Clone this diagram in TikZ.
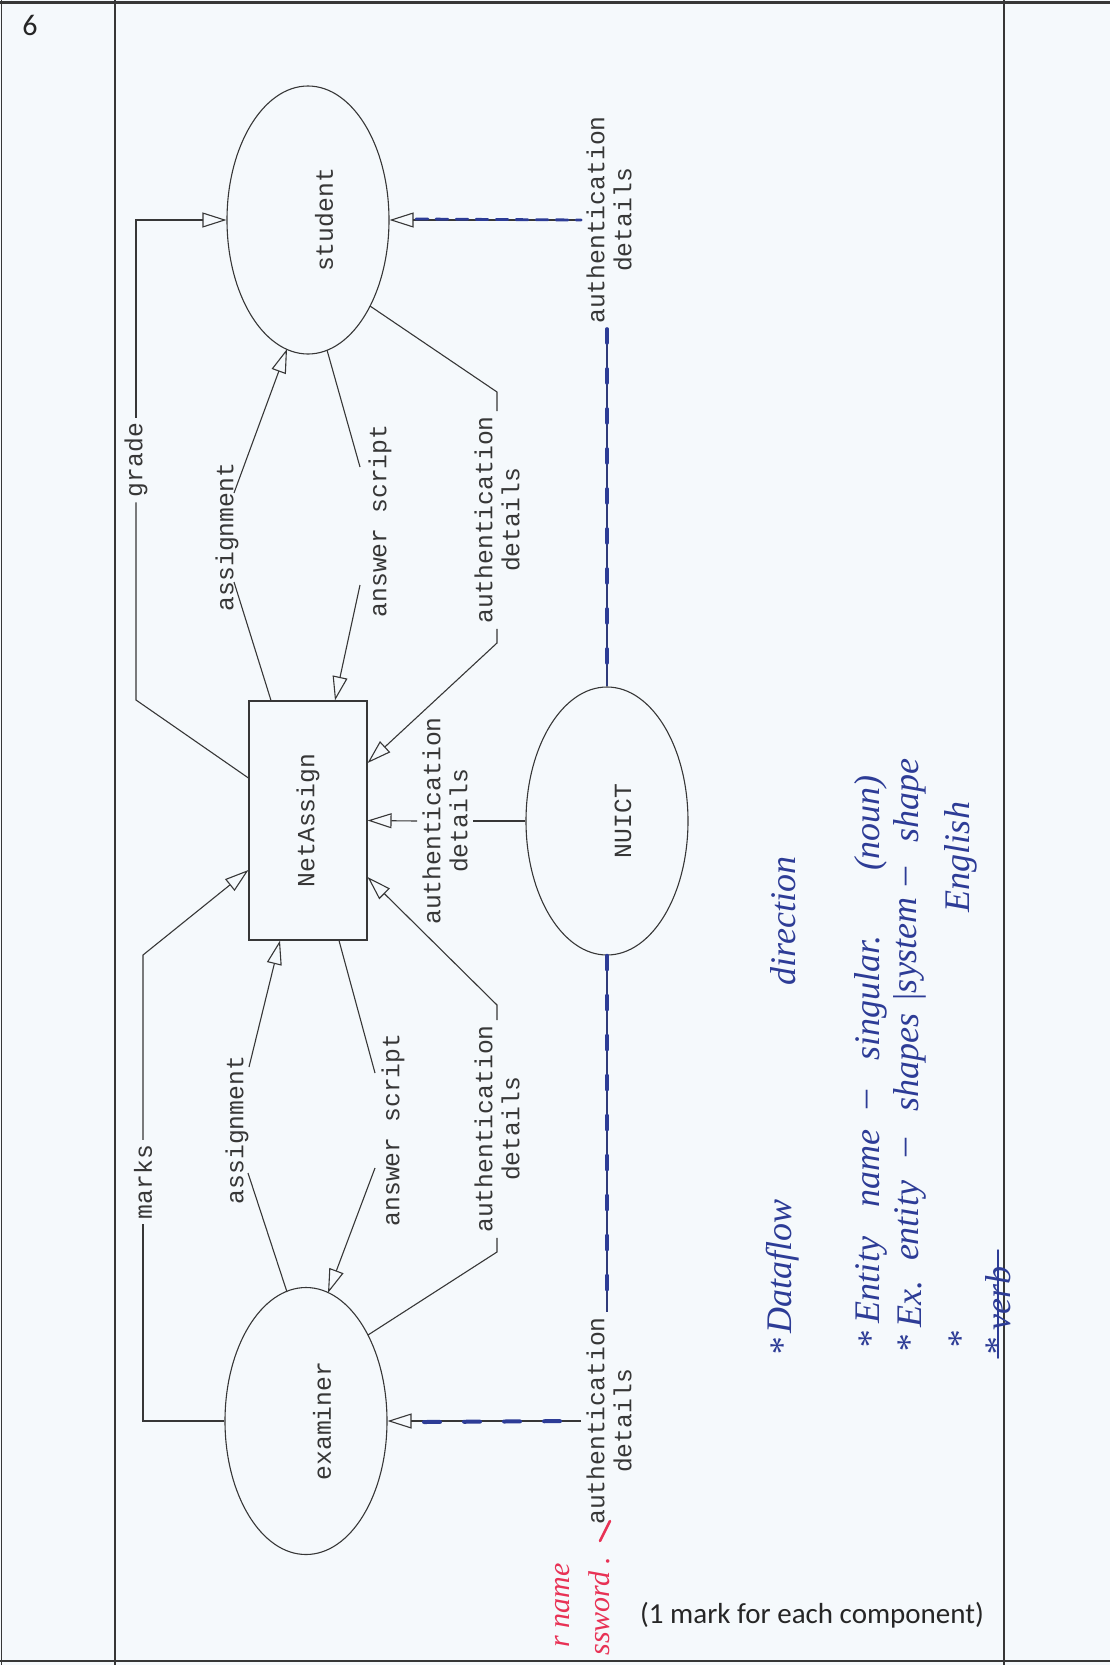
\documentclass[tikz,border=0pt]{standalone}
\usepackage{fontspec}
\newfontfamily\dfdfont{Liberation Mono}
\newfontfamily\calfont{Carlito}
\newfontfamily\handfont{Liberation Serif}
\usetikzlibrary{shapes,arrows.meta,positioning,calc}

\definecolor{paper}{RGB}{245,249,252}
\definecolor{ink}{RGB}{55,55,55}
\definecolor{penblue}{RGB}{45,60,150}
\definecolor{penred}{RGB}{232,50,85}

\newcommand{\entname}[1]{\rotatebox{90}{\raisebox{-16pt}[\height][\depth]{#1}}}

\begin{document}
\begin{tikzpicture}[x=1pt,y=-1pt,
    every node/.style={text=ink},
    entity/.style={draw=ink,ellipse,line width=1.1pt,inner sep=0pt,
        minimum width=162pt,minimum height=268pt,font=\dfdfont\fontsize{24.7}{27}\selectfont},
    process/.style={draw=ink,rectangle,line width=1.1pt,inner sep=0pt,
        minimum width=118pt,minimum height=239pt,font=\dfdfont\fontsize{24.7}{27}\selectfont},
    flowlbl/.style={rotate=90,align=center,inner sep=5pt,font=\dfdfont\fontsize{24.7}{27}\selectfont},
    flow/.style={draw=ink,line width=1.1pt},
    flowarrow/.style={flow,-{Triangle[open,length=24pt,width=15pt]}},
    penline/.style={draw=penblue,line width=3.6pt,line cap=round},
    note/.style={rotate=90,text=penblue,font=\handfont\itshape\fontsize{36}{40}\selectfont},
    rednote/.style={rotate=90,anchor=east,text=penred,font=\handfont\itshape\fontsize{30}{34}\selectfont},
]
    \useasboundingbox (0,0) rectangle (1110,1665);
    \clip (0,0) rectangle (1110,1665);
    \fill[paper] (0,0) rectangle (1110,1665);

    % page frame
    \draw[ink,line width=3pt] (0,2) -- (1110,2);
    \draw[ink,line width=2pt] (0,1661) -- (1110,1661);
    \draw[ink,line width=1.2pt] (1.5,0) -- (1.5,1665);
    \draw[ink,line width=1.2pt] (115,0) -- (115,1665);
    \draw[ink,line width=1.2pt] (1004,0) -- (1004,1665);
    \node[font=\calfont\fontsize{30}{32}\selectfont,text=black!85] (qno) at (30,25) {6};

    % entities and process
    \node[entity] (student) at (308,220) {\entname{student}};
    \node[process] (NetAssign) at (308,820.5) {\rotatebox{90}{NetAssign}};
    \node[entity] (NUICT) at (607,821) {\entname{NUICT}};
    \node[entity,minimum height=267pt] (examiner) at (306,1421) {\entname{examiner}};

    % flow labels
    \node[flowlbl] (lgrade) at (136,460) {grade};
    \node[flowlbl] (lasg1) at (227,537) {assignment};
    \node[flowlbl] (lans1) at (380,521) {answer script};
    \node[flowlbl] (lauth1) at (497,520) {authentication\\details};
    \node[flowlbl] (lnet) at (445,821) {authentication\\details};
    \node[flowlbl] (lstu) at (609,220) {authentication\\details};
    \node[flowlbl] (lmarks) at (143,1182) {marks};
    \node[flowlbl] (lasg2) at (237,1130) {assignment};
    \node[flowlbl] (lans2) at (393,1130) {answer script};
    \node[flowlbl] (lauth2) at (497,1129) {authentication\\details};
    \node[flowlbl] (lexa) at (609,1421) {authentication\\details};

    % NetAssign <-> student
    \draw[flow] ($(NetAssign.west)+(0,-42.5)$) -- (136,700) -- (lgrade.west);
    \draw[flowarrow] (lgrade.east) |- (student.west);
    \draw[flow] ($(NetAssign.north)+(-37,0)$) -- ($(lasg1)+(7,45)$);
    \draw[flowarrow] ($(lasg1)+(7,-44)$) -- ($(student.center)+(-21,129)$);
    \draw[flow] ($(student.center)+(19,130)$) -- ($(lans1)+(-20,-54)$);
    \draw[flowarrow] ($(lans1)+(-20,64)$) -- ($(NetAssign.north)+(27,0)$);
    \draw[flow] ($(student.center)+(62,86)$) -- (497,392) -- (lauth1.east);
    \draw[flowarrow] (lauth1.west) -- (497,643) -- ($(NetAssign.east)+(0,-57.5)$);

    % NUICT
    \draw[flow] (NUICT.west) -- (lnet.south);
    \draw[flowarrow] (lnet.north) -- (NetAssign.east);
    \draw[flow,draw=penblue!70!ink] (NUICT.north) -- (NUICT.north |- lstu.west);
    \draw[flowarrow] (lstu.north) -- (student.east);
    \draw[flow,draw=penblue!70!ink] (NUICT.south) -- (NUICT.south |- lexa.east);
    \draw[flowarrow] (lexa.north) -- (examiner.east);

    % examiner <-> NetAssign
    \draw[flow] (examiner.west) -| (lmarks.west);
    \draw[flowarrow] (lmarks.east) -- (143,955) -- ($(NetAssign.west)+(0,49.5)$);
    \draw[flow] ($(examiner.center)+(-19,-129)$) -- ($(lasg2)+(11,43)$);
    \draw[flowarrow] ($(lasg2)+(12,-63)$) -- ($(NetAssign.south)+(-28,0)$);
    \draw[flow] ($(NetAssign.south)+(31,0)$) -- ($(lans2)+(-18,-57)$);
    \draw[flowarrow] ($(lans2)+(-18,38)$) -- ($(examiner.center)+(22,-128)$);
    \draw[flow] ($(examiner.center)+(62,-86)$) -- (497,1252) -- (lauth2.west);
    \draw[flowarrow] (lauth2.east) -- (497,1005) -- ($(NetAssign.east)+(0,56.5)$);

    % pen marks over the NUICT flows
    \draw[penline,line width=2.8pt,dash pattern=on 12pt off 8pt] (416,219) -- (lstu.north);
    \draw[penline,dash pattern=on 14pt off 26pt] (NUICT.north |- lstu.west) -- (NUICT.north);
    \draw[penline,dash pattern=on 14pt off 26pt] (NUICT.south) -- (NUICT.south |- lexa.east);
    \draw[penline,line width=4pt,dash pattern=on 16pt off 24pt] (424,1422) -- (lexa.north);

    % marker notes
    \node[note] at (783,1347) {*};
    \node[note] at (783,1266) {Dataflow};
    \node[note] at (783,921) {direction};
    \node[note] at (871,1340) {*};
    \node[note] at (871,1280) {Entity};
    \node[note] at (871,1168) {name};
    \node[note] at (871,1099) {–};
    \node[note] at (871,998) {singular.};
    \node[note] at (871,823) {(noun)};
    \node[note] at (910,1344) {*};
    \node[note] at (910,1304) {Ex.};
    \node[note] at (910,1221) {entity};
    \node[note] at (910,1147) {–};
    \node[note] at (910,1062) {shapes};
    \node[note] at (910,998) {|};
    \node[note] at (910,945) {system};
    \node[note] at (910,876) {–};
    \node[note] at (910,800) {shape};
    \node[note] at (961,1340) {*};
    \node[note] at (961,857) {English};
    \node[note] at (998,1347) {*};
    \node[note] (verb) at (998,1298) {verb};
    \draw[penline,line width=1.5pt] (998,1358) -- (998,1250);

    % red pen
    \node[rednote] at (563,1560) {r name};
    \node[rednote] at (599,1553) {ssword .};
    \draw[penred,line width=2.5pt,line cap=round] (610,1521) -- (600,1541);

    \node[font=\calfont\fontsize{29}{32}\selectfont,text=black!85] (marknote) at (812,1615) {(1 mark for each component)};
\end{tikzpicture}
\end{document}
